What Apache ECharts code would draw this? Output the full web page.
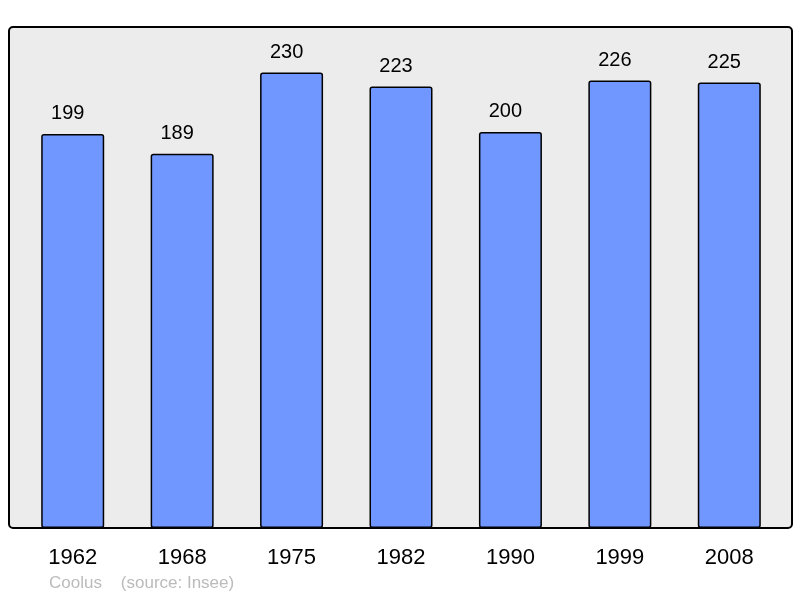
<!DOCTYPE html>
<html>
<head>
<meta charset="utf-8">
<script src="https://cdn.jsdelivr.net/npm/echarts@6/dist/echarts.min.js"></script>
<style>
  html, body { margin: 0; padding: 0; background: #fff; }
  #chart { width: 800px; height: 598px; }
</style>
</head>
<body>
<div id="chart"></div>
<script>
// données population
var years = ["1962", "1968", "1975", "1982", "1990", "1999", "2008"];
var population = [199, 189, 230, 223, 200, 226, 225];
var footerText = "Coolus    (source: Insee)";

var myChart = echarts.init(document.getElementById("chart"));

var option = {
  backgroundColor: "#fff",
  animation: false,
  textStyle: { fontFamily: "Liberation Sans, Arial, sans-serif" },
  // cadre gris arrondi derrière les barres
  graphic: [
    {
      type: "rect",
      z: -10,
      shape: { x: 9, y: 27, width: 783, height: 501, r: 4 },
      style: { fill: "#ececec", stroke: "#000", lineWidth: 2 }
    },
    {
      type: "text",
      left: 49,
      top: 575,
      style: {
        text: footerText,
        fill: "#bbbbbb",
        font: "17px Liberation Sans, Arial, sans-serif"
      }
    }
  ],
  grid: {
    left: 18,
    top: 27,
    width: 766,
    height: 501
  },
  xAxis: {
    type: "category",
    data: years,
    axisLine: { show: false },
    axisTick: { show: false },
    axisLabel: {
      color: "#000",
      fontSize: 22,
      margin: 19
    }
  },
  yAxis: {
    type: "value",
    min: 0,
    max: 253,
    show: false,
    splitLine: { show: false }
  },
  series: [
    {
      type: "bar",
      data: population,
      barWidth: 63,
      itemStyle: {
        color: "#7096ff",
        borderColor: "#000",
        borderWidth: 1.5,
        borderRadius: 2
      },
      label: {
        show: true,
        position: "top",
        distance: 10,
        offset: [-5, 0],
        color: "#000",
        fontSize: 20
      }
    }
  ]
};

myChart.setOption(option);
</script>
</body>
</html>
